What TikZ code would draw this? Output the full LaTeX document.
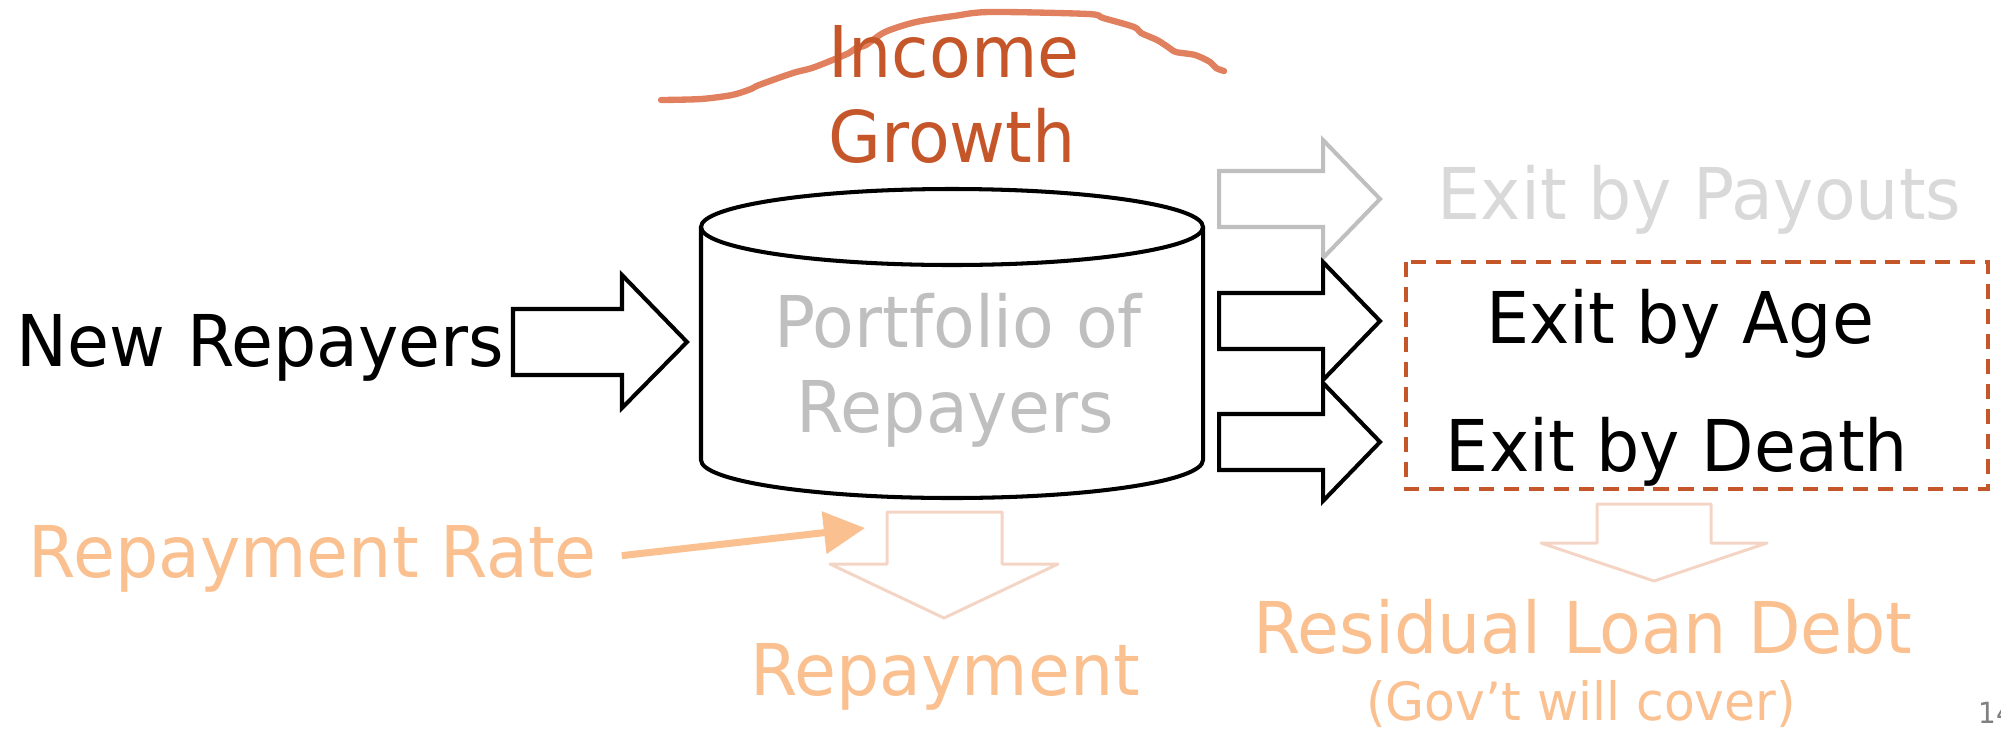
\documentclass[tikz,border=0pt]{standalone}
\usepackage{fontspec}
\setmainfont{DejaVu Sans}[FakeStretch=0.955]
\usetikzlibrary{arrows.meta}
\definecolor{rust}{HTML}{C5562A}
\definecolor{scrawl}{HTML}{E0805E}
\definecolor{peach}{HTML}{FAC090}
\definecolor{blush}{HTML}{F4D5C5}
\definecolor{greyline}{HTML}{BFBFBF}
\definecolor{greytext}{HTML}{D9D9D9}
\tikzset{
    lbl/.style={inner sep=0pt,font=\fontsize{20.3}{24}\selectfont},
    blk/.style={draw,line width=1.15pt,line join=miter,fill=white},
    soft/.style={draw=blush,line width=0.85pt,line join=round},
    cyl/.style={draw,line width=1.15pt}
}
\begin{document}
\begin{tikzpicture}[x=0.01cm,y=-0.01cm]
                \useasboundingbox(0,0)rectangle(2001,730);

                \draw[scrawl,line width=1.8pt,line cap=round]plot[smooth]coordinates{(661,100)(701,99)(732,95)(751,89)(759,85)(793,73)(812,68)(835,59)(849,53)(856,48)(866,45)(885,32)(916,22)(954,16)(990,12)(1088,14)(1103,18)(1134,27)(1141,33)(1157,40)(1168,47)(1176,52)(1195,55)(1210,62)(1216,68)(1224,71)};
                \node[lbl,text=rust,anchor=base](income)at(954,77){Income};
                \node[lbl,text=rust,anchor=base](growth)at(952,162){Growth};

                \node[lbl,anchor=base west](new)at(16,366){New Repayers};
                \draw[blk](513,309)--(622,309)--(622,275)--(687,342)--(622,408)--(622,375)--(513,375)--cycle;

                \draw[cyl](701,227)--(701,460)arc[start angle=180,end angle=0,x radius=251,y radius=38]--(1203,227);
                \draw[cyl](952,227)ellipse[x radius=251,y radius=38];
                \node[lbl,text=greyline,anchor=base](port)at(958,347){Portfolio of};
                \node[lbl,text=greyline,anchor=base](repay)at(955,432){Repayers};

                \foreach \c/\col in {199/greyline,321/black,442/black}
                    \draw[blk,draw=\col](1219,\c-28)--(1323,\c-28)--(1323,\c-59)--(1380,\c)--(1323,\c+59)--(1323,\c+28)--(1219,\c+28)--cycle;
                \node[lbl,text=greytext,anchor=base west](payout)at(1437,219){Exit by Payouts};
                \node[lbl,anchor=base](age)at(1680,343){Exit by Age};
                \node[lbl,anchor=base](death)at(1677,471){Exit by Death};
                \draw[rust,line width=1.15pt,dash pattern=on 4.3pt off 2.8pt](1406,262)rectangle(1988,489);

                \node[lbl,text=peach,anchor=base west](rate)at(28,577){Repayment Rate};
                \coordinate(ratetip)at(865,528);
                \draw[soft](887,512)--(1002,512)--(1002,564)--(1058,564)--(944,618)--(830,564)--(887,564)--cycle;
                \draw[-{Triangle[length=11.7pt,width=11.7pt]},peach,line width=2pt,shorten <=7pt](rate.east)--(ratetip);
                \node[lbl,text=peach,anchor=base](payment)at(945,695){Repayment};

                \draw[soft](1597,504)--(1711,504)--(1711,543)--(1767,543)--(1654,581)--(1541,543)--(1597,543)--cycle;
                \node[lbl,text=peach,anchor=base](residual)at(1583,653){Residual Loan Debt};
                \node[inner sep=0pt,text=peach,font=\fontsize{15}{18}\selectfont,anchor=base](gov)at(1581,720){(Gov't will cover)};

                \node[inner sep=0pt,text=gray,font=\fontsize{8.3}{10}\selectfont,anchor=base west](page)at(1978,723){14};
\end{tikzpicture}
\end{document}
